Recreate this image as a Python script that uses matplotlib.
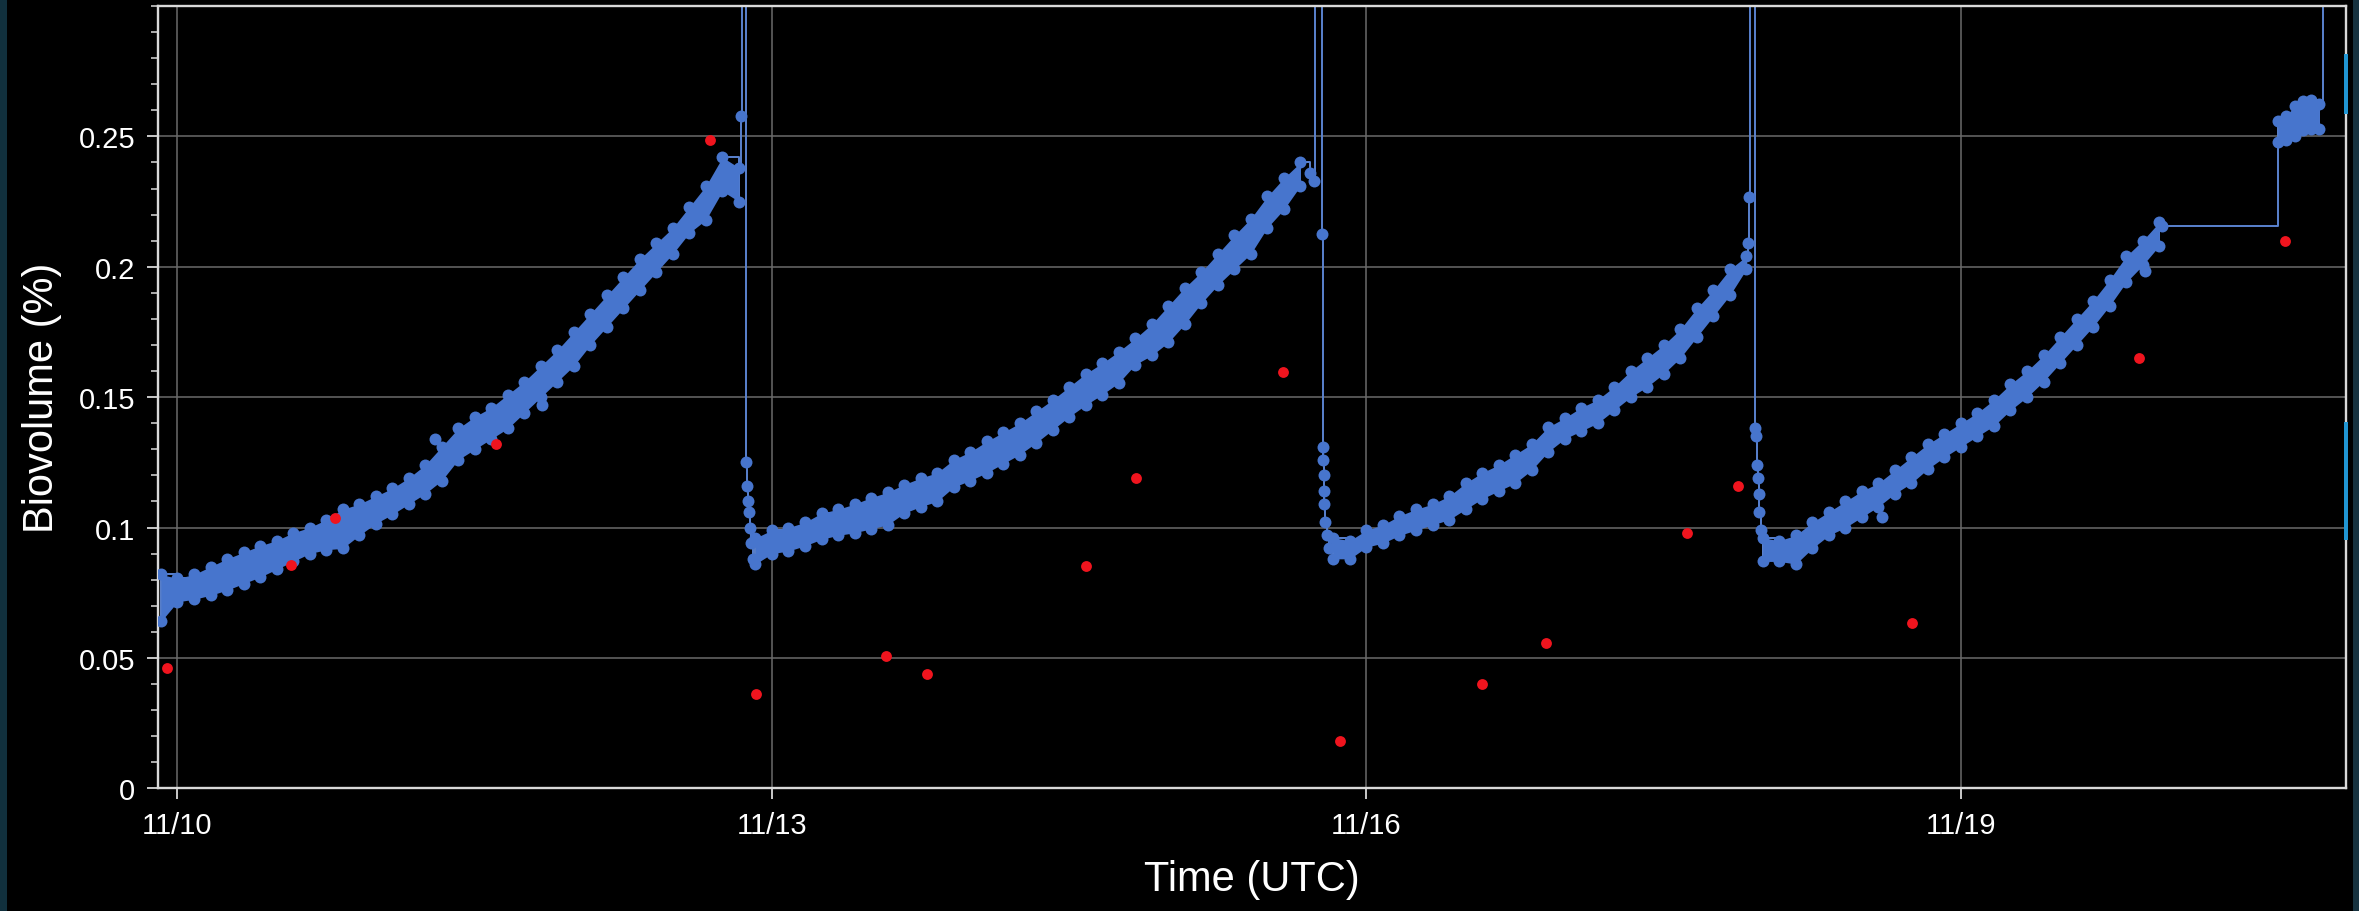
import numpy as np
import pandas as pd
import matplotlib
matplotlib.use('Agg')
import matplotlib.pyplot as plt
import matplotlib.dates as mdates
from matplotlib.patches import Rectangle
from matplotlib.ticker import MultipleLocator, FuncFormatter

plt.rcParams['font.family'] = ['Liberation Sans', 'DejaVu Sans']

START = pd.Timestamp('2022-11-10 00:00')

# biovolume band, hours after 11/10 00:00 UTC: lower / upper edge of the scatter
seg1_hours = np.arange(-2, 69, 2)
seg1_lo = [0.064, 0.0715, 0.0725, 0.074, 0.076, 0.0785, 0.081, 0.084, 0.087, 0.090, 0.0915, 0.092,
           0.097, 0.1015, 0.105, 0.109, 0.113, 0.118, 0.126, 0.130, 0.134, 0.138, 0.144, 0.150,
           0.156, 0.162, 0.170, 0.177, 0.184, 0.191, 0.198, 0.205, 0.213, 0.218, 0.229, 0.225]
seg1_hi = [0.082, 0.0805, 0.082, 0.085, 0.088, 0.0905, 0.093, 0.095, 0.098, 0.100, 0.103, 0.107,
           0.109, 0.112, 0.115, 0.119, 0.124, 0.131, 0.138, 0.1425, 0.146, 0.151, 0.156, 0.162,
           0.168, 0.175, 0.182, 0.189, 0.196, 0.203, 0.209, 0.215, 0.223, 0.231, 0.242, 0.238]

seg2_hours = np.arange(70, 137, 2)
seg2_lo = [0.086, 0.090, 0.091, 0.093, 0.0955, 0.097, 0.098, 0.0995, 0.101, 0.1055, 0.108, 0.110,
           0.1155, 0.118, 0.121, 0.1245, 0.128, 0.1325, 0.1375, 0.1425, 0.147, 0.151, 0.1555,
           0.1625, 0.166, 0.171, 0.178, 0.186, 0.193, 0.199, 0.205, 0.215, 0.222, 0.231]
seg2_hi = [0.096, 0.099, 0.100, 0.102, 0.1055, 0.107, 0.109, 0.1115, 0.1135, 0.1165, 0.119, 0.121,
           0.126, 0.129, 0.133, 0.1365, 0.140, 0.1445, 0.149, 0.154, 0.159, 0.163, 0.1675,
           0.1725, 0.178, 0.185, 0.192, 0.198, 0.205, 0.212, 0.2185, 0.227, 0.234, 0.240]

seg3_hours = np.arange(140, 191, 2)
seg3_lo = [0.088, 0.088, 0.0925, 0.094, 0.097, 0.099, 0.101, 0.103, 0.107, 0.111, 0.114, 0.117,
           0.122, 0.129, 0.134, 0.137, 0.140, 0.145, 0.150, 0.154, 0.159, 0.165, 0.173, 0.181,
           0.189, 0.199]
seg3_hi = [0.096, 0.095, 0.099, 0.101, 0.1045, 0.107, 0.109, 0.112, 0.117, 0.121, 0.124, 0.128,
           0.132, 0.1385, 0.142, 0.146, 0.149, 0.154, 0.160, 0.165, 0.170, 0.176, 0.184, 0.191,
           0.199, 0.204]

seg4_hours = np.arange(192, 241, 2)
seg4_lo = [0.087, 0.087, 0.086, 0.092, 0.097, 0.100, 0.104, 0.108, 0.113, 0.117, 0.1225, 0.127,
           0.131, 0.135, 0.139, 0.145, 0.150, 0.156, 0.163, 0.170, 0.177, 0.185, 0.194, 0.2005,
           0.208]
seg4_hi = [0.096, 0.095, 0.097, 0.102, 0.106, 0.110, 0.114, 0.117, 0.122, 0.127, 0.132, 0.136,
           0.140, 0.144, 0.149, 0.155, 0.160, 0.166, 0.173, 0.180, 0.187, 0.195, 0.204, 0.210,
           0.217]

seg5_hours = np.arange(254.4, 259.5, 1.0)
seg5_lo = [0.248, 0.2485, 0.250, 0.2525, 0.253, 0.253]
seg5_hi = [0.256, 0.258, 0.2615, 0.2635, 0.264, 0.2625]

# cleaning spikes (off scale) and the drop back after each one
jump_hours = [68.25, 68.4, 68.9, 69.0, 69.1, 69.2, 69.35, 69.5, 69.7,
              137.2, 137.6, 137.8, 138.65, 138.7, 138.75, 138.8, 138.85, 138.9, 139.0, 139.2, 139.5,
              190.2, 190.3, 190.4, 191.1, 191.2, 191.3, 191.4, 191.5, 191.6, 191.8,
              240.4, 259.9]
jump_values = [0.258, 0.9, 0.125, 0.116, 0.110, 0.106, 0.100, 0.094, 0.088,
               0.236, 0.233, 0.9, 0.2125, 0.131, 0.126, 0.120, 0.114, 0.109, 0.102, 0.097, 0.092,
               0.209, 0.2267, 0.9, 0.138, 0.135, 0.124, 0.119, 0.113, 0.106, 0.099,
               0.2155, 0.9]

# stray readings outside the band
stray_hours = [31.2, 44.2, 206.4, 238.3]
stray_values = [0.134, 0.147, 0.104, 0.1985]

# discrete bottle samples
sample_hours = [-1.3, 13.8, 19.1, 38.6, 64.5, 70.1, 85.8, 90.8, 110.0, 116.1, 133.9, 140.8,
                158.0, 165.7, 182.8, 189.0, 210.1, 237.6, 255.3]
sample_values = [0.046, 0.0855, 0.1038, 0.132, 0.2485, 0.0363, 0.0506, 0.044, 0.0854, 0.1189,
                 0.1598, 0.0181, 0.0399, 0.0559, 0.0978, 0.1158, 0.0632, 0.1649, 0.210]

BLUE = '#4775cd'
RED = '#f0141e'
FG = '#d9d9d9'


def to_time(hours):
    return (START + pd.to_timedelta(np.asarray(hours, dtype=float), unit='h')).values


segments = [(seg1_hours, seg1_lo, seg1_hi), (seg2_hours, seg2_lo, seg2_hi),
            (seg3_hours, seg3_lo, seg3_hi), (seg4_hours, seg4_lo, seg4_hi),
            (seg5_hours, seg5_lo, seg5_hi)]

# connected series in time order (band + spikes)
trace_h, trace_v = [], []
for hrs, lo, hi in segments:
    for h, a, b in zip(hrs, lo, hi):
        trace_h += [h, h]
        trace_v += [a, b]
trace_h += jump_hours
trace_v += jump_values
trace_h = np.array(trace_h, dtype=float)
trace_v = np.array(trace_v, dtype=float)
order = np.argsort(trace_h, kind='stable')
trace_t = to_time(trace_h[order])
trace_v = trace_v[order]

fig = plt.figure(figsize=(23.59, 9.12), dpi=100, facecolor='black')
ax = fig.add_axes([158 / 2359, 1 - 789.3 / 912, 2187.7 / 2359, 782.3 / 912])
ax.set_facecolor('black')

ax.plot(trace_t, trace_v, drawstyle='steps-post', color='#5a82cf', lw=1.4, zorder=1.5)
for hrs, lo, hi in segments:
    ax.fill_between(to_time(hrs), lo, hi, color=BLUE, lw=0, zorder=2)
ax.plot(trace_t, trace_v, 'o', ms=8.6, color=BLUE, mec='none', zorder=3)
ax.plot(to_time(stray_hours), stray_values, 'o', ms=8.6, color=BLUE, mec='none', zorder=3)
ax.plot(to_time(sample_hours), sample_values, 'o', ms=7.8, color=RED, mec='none', zorder=4)

ax.set_xlim(to_time([-2.36])[0], to_time([262.6])[0])
ax.set_ylim(0, 0.3)

ax.set_yticks([0, 0.05, 0.1, 0.15, 0.2, 0.25])
ax.yaxis.set_minor_locator(MultipleLocator(0.01))
ax.yaxis.set_major_formatter(FuncFormatter(lambda v, _: f'{v:g}'))
ax.set_xticks(to_time([0, 72, 144, 216]))
ax.xaxis.set_major_formatter(mdates.DateFormatter('%m/%d'))

ax.grid(True, which='major', color='#6a6a6a', lw=1.1)
ax.set_axisbelow(True)
for sp in ax.spines.values():
    sp.set_color(FG)
    sp.set_linewidth(1.7)

ax.tick_params(axis='both', which='major', colors=FG, labelcolor='white', labelsize=21,
               length=8, width=1.3, pad=8.5, direction='out')
ax.tick_params(axis='y', which='minor', colors=FG, length=5.3, width=1.1, direction='out')

ax.set_xlabel('Time (UTC)', fontsize=30, color='white')
ax.set_ylabel('Biovolume (%)', fontsize=30, color='white')
ax.xaxis.set_label_coords(0.5, -0.0904)
ax.yaxis.set_label_coords(-0.0439, 0.5)

# window frame strips and the scroll markers on the right edge
fig.add_artist(Rectangle((0, 0), 7 / 2359, 1, transform=fig.transFigure,
                         color='#11303d', lw=0))
fig.add_artist(Rectangle((2353 / 2359, 0), 6 / 2359, 1, transform=fig.transFigure,
                         color='#17323f', lw=0))
fig.add_artist(Rectangle((2344 / 2359, 1 - 115 / 912), 4 / 2359, 60 / 912,
                         transform=fig.transFigure, color='#2196d3', lw=0))
fig.add_artist(Rectangle((2344 / 2359, 1 - 541 / 912), 4 / 2359, 118 / 912,
                         transform=fig.transFigure, color='#2196d3', lw=0))

fig.savefig('out.png', dpi=100, facecolor='black')
